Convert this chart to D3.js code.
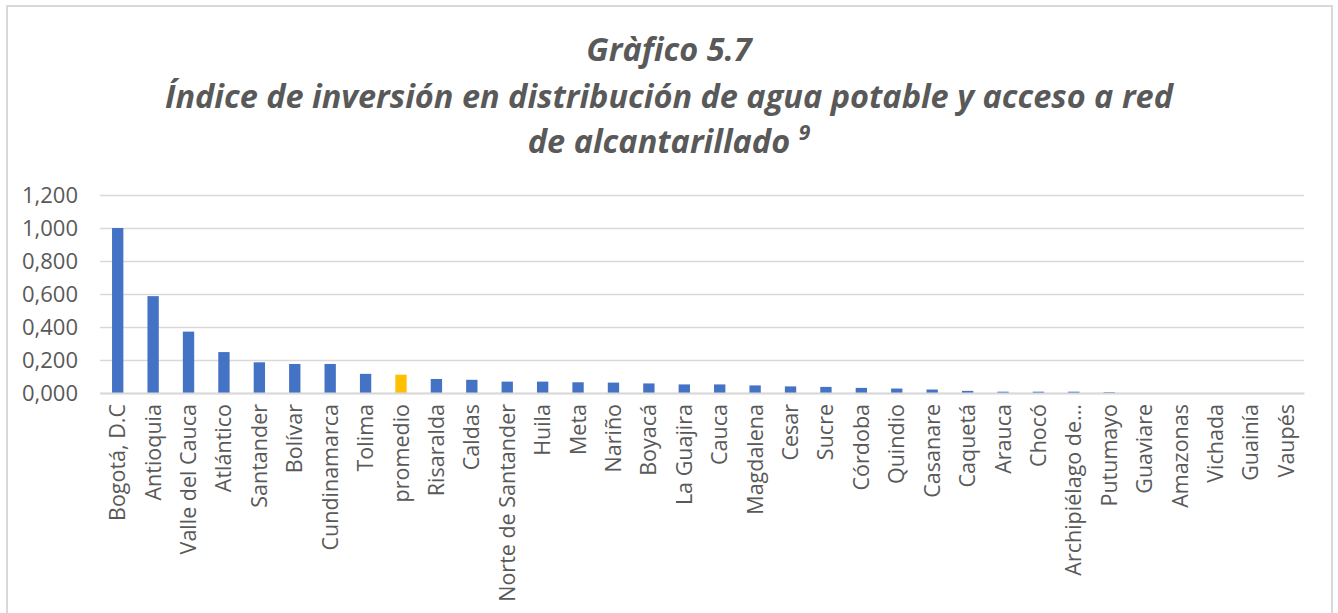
<!DOCTYPE html>
<html>
<head>
<meta charset="utf-8">
<script src="https://cdn.jsdelivr.net/npm/d3@7"></script>
<style>
    body { margin: 0; background: #fff; }
    svg { display: block; }
</style>
</head>
<body>
<div id="chart"></div>
<script>
// departamentos (orden del gráfico)
var categories = ["Bogotá, D.C", "Antioquia", "Valle del Cauca", "Atlántico", "Santander", "Bolívar",
    "Cundinamarca", "Tolima", "promedio", "Risaralda", "Caldas", "Norte de Santander", "Huila", "Meta",
    "Nariño", "Boyacá", "La Guajira", "Cauca", "Magdalena", "Cesar", "Sucre", "Córdoba", "Quindio",
    "Casanare", "Caquetá", "Arauca", "Chocó", "Archipiélago de...", "Putumayo", "Guaviare", "Amazonas",
    "Vichada", "Guainía", "Vaupés"];

var values = [1.000, 0.587, 0.372, 0.248, 0.186, 0.176,
    0.176, 0.116, 0.111, 0.085, 0.080, 0.069, 0.069, 0.065,
    0.063, 0.058, 0.052, 0.052, 0.046, 0.040, 0.037, 0.031, 0.027,
    0.021, 0.013, 0.008, 0.008, 0.008, 0.005, 0, 0,
    0, 0, 0];

var yTicks = [0, 0.2, 0.4, 0.6, 0.8, 1.0, 1.2];

var titleLines = ["Gràfico 5.7",
    "Índice de inversión en distribución de agua potable y acceso a red",
    "de alcantarillado"];

var W = 1338, H = 613;
var margin = { top: 195, right: 34, bottom: 220, left: 100 };
var width = W - margin.left - margin.right,
    height = H - margin.top - margin.bottom;

var svg = d3.select("#chart").append("svg")
    .attr("width", W)
    .attr("height", H);

// marco del gráfico
svg.append("rect")
    .attr("x", 7)
    .attr("y", 6)
    .attr("width", 1325)
    .attr("height", 640)
    .style("fill", "none")
    .style("stroke", "#d9d9d9")
    .style("stroke-width", 2);

// titulo
var title = svg.append("g")
    .attr("class", "title")
    .style("font-family", "'Open Sans', sans-serif")
    .style("font-weight", "bold")
    .style("font-style", "italic")
    .style("font-size", "32.5px")
    .style("fill", "#595959")
    .attr("text-anchor", "middle");

var titleY = [61, 108, 153];
titleLines.forEach(function(t, i) {
    var tx = title.append("text")
        .attr("x", 669)
        .attr("y", titleY[i]);
    tx.append("tspan").text(t);
    if (i == 2) {
        tx.append("tspan").text(" ");
        tx.append("tspan")
            .attr("dy", -13)
            .style("font-size", "21px")
            .text("9");
    }
});

var g = svg.append("g")
    .attr("transform", "translate(" + margin.left + "," + margin.top + ")");

var x = d3.scaleBand()
    .domain(categories)
    .range([0, width])
    .paddingInner(0.68)
    .paddingOuter(0.34);

var y = d3.scaleLinear()
    .domain([0, 1.2])
    .range([height, 0]);

// lineas de cuadricula
var fmt = function(d) { return d3.format(".3f")(d).replace(".", ","); };

var yAxis = d3.axisLeft(y)
    .tickValues(yTicks)
    .tickSize(-width)
    .tickPadding(22)
    .tickFormat(fmt);

var yG = g.append("g")
    .attr("class", "axis y-axis")
    .call(yAxis);

yG.select(".domain").remove();
yG.selectAll("line")
    .style("stroke", "#d9d9d9")
    .style("stroke-width", 1.5);
yG.selectAll("text")
    .style("font-family", "'Open Sans', sans-serif")
    .style("font-size", "22px")
    .style("fill", "#595959");

// barras
g.selectAll(".bar")
    .data(values)
    .enter().append("rect")
    .attr("class", "bar")
    .attr("x", function(d, i) { return x(categories[i]); })
    .attr("width", x.bandwidth())
    .attr("y", function(d) { return y(d); })
    .attr("height", function(d) { return height - y(d); })
    .style("fill", function(d, i) { return categories[i] == "promedio" ? "#ffc000" : "#4472c4"; });

// eje x
var xAxis = d3.axisBottom(x).tickSize(0).tickPadding(0);

var xG = g.append("g")
    .attr("class", "axis x-axis")
    .attr("transform", "translate(0," + height + ")")
    .call(xAxis);

xG.select(".domain")
    .style("stroke", "#d9d9d9")
    .style("stroke-width", 2);

xG.selectAll("text")
    .attr("transform", "rotate(-90)")
    .attr("x", -11)
    .attr("y", 0)
    .attr("dy", "0.35em")
    .style("text-anchor", "end")
    .style("font-family", "'Open Sans', sans-serif")
    .style("font-size", "21.5px")
    .style("fill", "#595959");
</script>
</body>
</html>
